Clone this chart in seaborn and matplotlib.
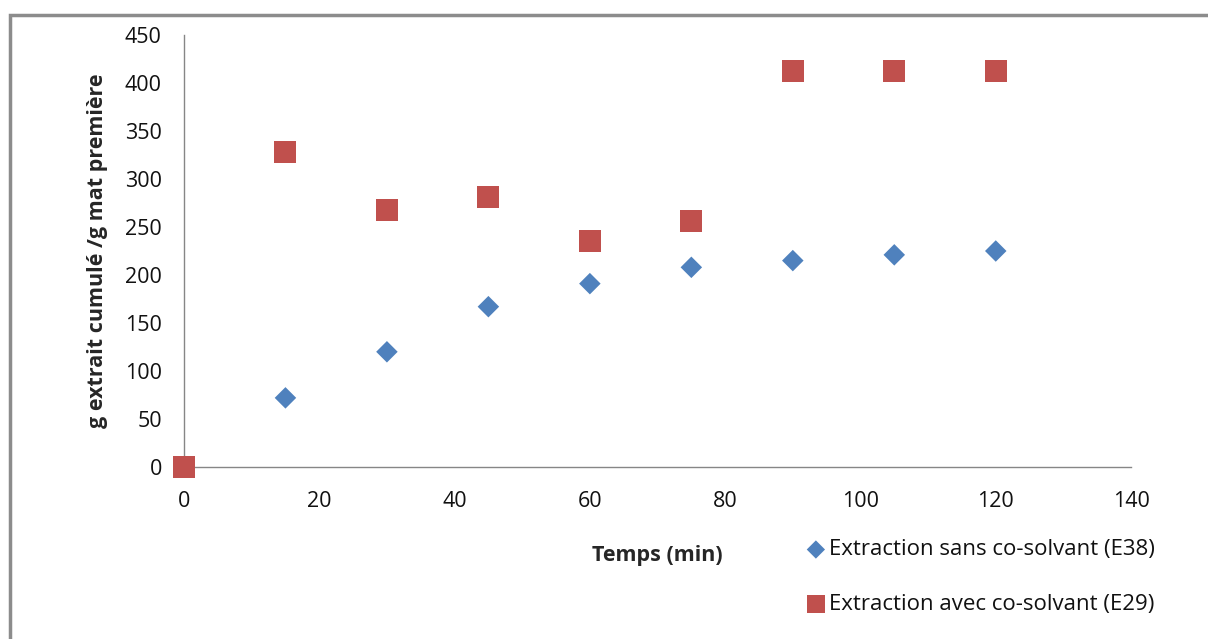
import numpy as np
import pandas as pd
import seaborn as sns
import matplotlib.pyplot as plt
from matplotlib.patches import Rectangle

temps = [0, 15, 30, 45, 60, 75, 90, 105, 120]
sans_cosolvant = [0, 72, 120, 167, 191, 208, 215, 221, 225]
avec_cosolvant = [0, 328, 268, 281, 235, 256, 413, 413, 413]

df1 = pd.DataFrame({'t': temps, 'g': sans_cosolvant})
df2 = pd.DataFrame({'t': temps, 'g': avec_cosolvant})

sns.set_style('white')
plt.rcParams['font.family'] = ['Open Sans', 'DejaVu Sans']
plt.rcParams['text.color'] = '#111111'

fig = plt.figure(figsize=(12.08, 6.39), dpi=100)
ax = fig.add_axes([0.1523, 0.2692, 0.784, 0.6760])

sns.scatterplot(data=df1, x='t', y='g', ax=ax, marker='D', s=120,
                color='#4F81BD', edgecolor='none', clip_on=False, zorder=4,
                label='Extraction sans co-solvant (E38)')
sns.scatterplot(data=df2, x='t', y='g', ax=ax, marker='s', s=250,
                color='#C0504D', edgecolor='none', clip_on=False, zorder=5,
                label='Extraction avec co-solvant (E29)')

ax.set_xlim(0, 140)
ax.set_ylim(0, 450)
ax.set_xticks(np.arange(0, 141, 20))
ax.set_yticks(np.arange(0, 451, 50))
ax.tick_params(labelsize=15.5, length=0, labelcolor='#111111')
ax.tick_params(axis='y', pad=16)
ax.tick_params(axis='x', pad=17)
for side in ['top', 'right']:
    ax.spines[side].set_visible(False)
for side in ['left', 'bottom']:
    ax.spines[side].set_color('#868686')
    ax.spines[side].set_linewidth(1)

ax.set_xlabel('Temps (min)', fontsize=15.5, fontweight='bold')
ax.xaxis.set_label_coords(0.5, -0.18)
ax.set_ylabel('g extrait cumulé /g mat première', fontsize=15.5, fontweight='bold')
ax.yaxis.set_label_coords(-0.08, 0.5)

ax.get_legend().remove()
handles, labels = ax.get_legend_handles_labels()
fig.legend(handles, labels, loc='center left', bbox_to_anchor=(0.657, 0.097),
           frameon=False, fontsize=16, handletextpad=0.0, labelspacing=1.5,
           markerscale=0.85, borderaxespad=0, handlelength=1.2)

fig.patches.append(Rectangle((10 / 1208, -0.1), 1.2, 1 - 15 / 639 + 0.1,
                             transform=fig.transFigure, fill=False,
                             edgecolor='#8c8c8c', linewidth=2.5))

plt.savefig('out.png', dpi=100)
